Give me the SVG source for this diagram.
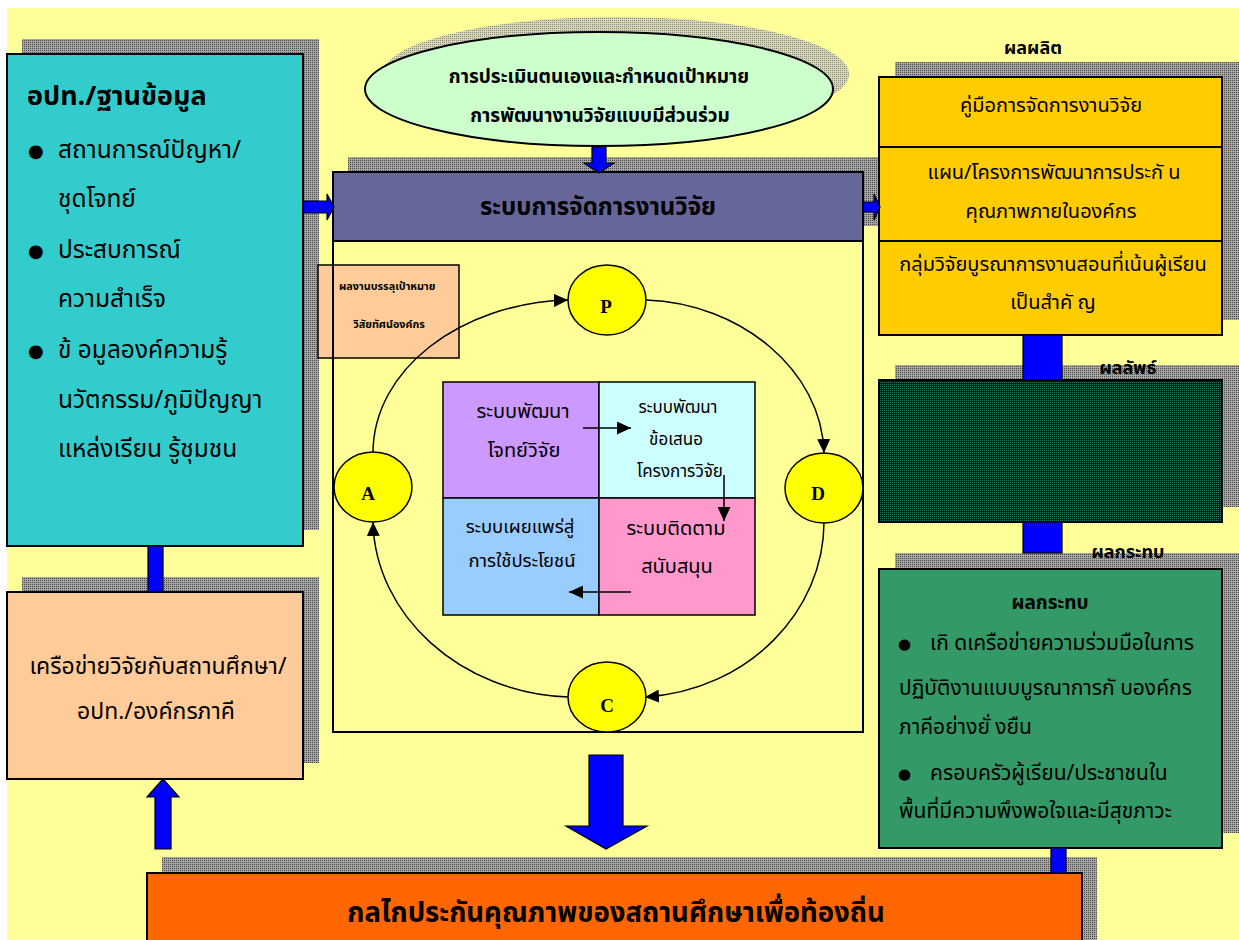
<svg xmlns="http://www.w3.org/2000/svg" width="1239" height="940" viewBox="0 0 1239 940">
<defs>
<pattern id="shd" width="2" height="2" patternUnits="userSpaceOnUse"><rect width="2" height="2" fill="#a6a6a6"/><rect width="1" height="1" fill="#4a4a4a"/></pattern>
<pattern id="shdl" width="2" height="2" patternUnits="userSpaceOnUse"><rect width="2" height="2" fill="#d8d8b0"/><rect width="1" height="1" fill="#8a8a80"/></pattern>
<pattern id="dk" width="2" height="2" patternUnits="userSpaceOnUse"><rect width="2" height="2" fill="#001a14"/><rect width="1" height="1" fill="#1f7a5c"/></pattern>
<marker id="ah" viewBox="0 0 14 13" refX="14" refY="6.5" markerWidth="14" markerHeight="13" markerUnits="userSpaceOnUse" orient="auto"><path d="M0,0 L14,6.5 L0,13 z" fill="#000"/></marker>
</defs>
<style>
.t{font-family:"Noto Sans Thai","DejaVu Sans","Liberation Serif",serif;fill:#000}
.b{font-weight:bold}
.c{text-anchor:middle}
.box{stroke:#000;stroke-width:2}
.blue{fill:#0000ff;stroke:#000;stroke-width:1.2}
.ln{fill:none;stroke:#000;stroke-width:1.5}
.cir{fill:#ffff00;stroke:#000;stroke-width:1.5}
.lt{font-family:"Liberation Serif",serif;font-weight:bold;font-size:19px;text-anchor:middle}
</style>
<rect x="7" y="8" width="1232" height="932" fill="#ffff99"/>

<g id="node-left-data">
<rect x="22" y="39" width="297" height="491" fill="url(#shd)"/>
<rect class="box" x="7" y="54" width="296" height="492" fill="#33cccc"/>
<text class="t b" x="27" y="105" font-size="27">อปท./ฐานข้อมูล</text>
<text class="t" x="28" y="157" font-size="18">●</text>
<text class="t" x="58" y="158" font-size="24.5">สถานการณ์ปัญหา/</text>
<text class="t" x="58" y="207" font-size="24.5">ชุดโจทย์</text>
<text class="t" x="28" y="257" font-size="18">●</text>
<text class="t" x="58" y="258" font-size="24.5">ประสบการณ์</text>
<text class="t" x="58" y="307" font-size="24.5">ความสำเร็จ</text>
<text class="t" x="28" y="357" font-size="18">●</text>
<text class="t" x="58" y="358" font-size="24.5">ข้ อมูลองค์ความรู้</text>
<text class="t" x="58" y="408" font-size="24.5">นวัตกรรม/ภูมิปัญญา</text>
<text class="t" x="58" y="457" font-size="24.5">แหล่งเรียน รู้ชุมชน</text>
</g>

<g id="node-network">
<rect x="22" y="577" width="297" height="186" fill="url(#shd)"/>
<rect class="box" x="7" y="592" width="296" height="187" fill="#ffcc99"/>
<text class="t c" x="158" y="674" font-size="23">เครือข่ายวิจัยกับสถานศึกษา/</text>
<text class="t c" x="156" y="719" font-size="23">อปท./องค์กรภาคี</text>
</g>

<g id="node-ellipse">
<ellipse cx="616" cy="74" rx="233" ry="57" fill="url(#shdl)"/>
<ellipse cx="599" cy="89" rx="234" ry="57" fill="#ccffcc" stroke="#000" stroke-width="2"/>
<text class="t b c" x="599" y="83" font-size="19">การประเมินตนเองและกำหนดเป้าหมาย</text>
<text class="t b c" x="600" y="122" font-size="19">การพัฒนางานวิจัยแบบมีส่วนร่วม</text>
</g>

<g id="node-goal">
<rect x="318" y="265" width="141" height="93" fill="#ffcc99" stroke="#000" stroke-width="1.5"/>
<text class="t b" x="339" y="290" font-size="10.8">ผลงานบรรลุเป้าหมาย</text>
<text class="t b c" x="389" y="328" font-size="10.8">วิสัยทัศน์องค์กร</text>
</g>

<g id="node-main">
<rect x="348" y="157" width="531" height="69" fill="url(#shd)"/>
<rect class="box" x="333" y="172" width="530" height="560" fill="none"/>
<rect class="box" x="333" y="172" width="530" height="69" fill="#666699"/>
<text class="t b c" x="598" y="215" font-size="24">ระบบการจัดการงานวิจัย</text>
</g>

<g id="node-grid">
<rect x="443" y="382" width="156" height="116" fill="#cc99ff" stroke="#000" stroke-width="1.5"/>
<rect x="599" y="382" width="156" height="116" fill="#ccffff" stroke="#000" stroke-width="1.5"/>
<rect x="443" y="498" width="156" height="117" fill="#99ccff" stroke="#000" stroke-width="1.5"/>
<rect x="599" y="498" width="156" height="117" fill="#ff99cc" stroke="#000" stroke-width="1.5"/>
<text class="t c" x="523" y="418" font-size="20">ระบบพัฒนา</text>
<text class="t c" x="524" y="457" font-size="20">โจทย์วิจัย</text>
<text class="t c" x="678" y="413" font-size="17">ระบบพัฒนา</text>
<text class="t c" x="676" y="445" font-size="17">ข้อเสนอ</text>
<text class="t c" x="680" y="477" font-size="17">โครงการวิจัย</text>
<text class="t c" x="520" y="533" font-size="18.5">ระบบเผยแพร่สู่</text>
<text class="t c" x="522" y="567" font-size="18.5">การใช้ประโยชน์</text>
<text class="t c" x="676" y="535" font-size="20">ระบบติดตาม</text>
<text class="t c" x="677" y="573" font-size="20">สนับสนุน</text>
</g>

<g id="node-output">
<text class="t b c" x="1033" y="54" font-size="18">ผลผลิต</text>
<rect x="895" y="62" width="344" height="258" fill="url(#shd)"/>
<rect class="box" x="879" y="77" width="343" height="258" fill="#ffcc00"/>
<line x1="879" y1="147" x2="1222" y2="147" stroke="#000" stroke-width="2"/>
<line x1="879" y1="241" x2="1222" y2="241" stroke="#000" stroke-width="2"/>
<text class="t c" x="1051" y="112" font-size="20">คู่มือการจัดการงานวิจัย</text>
<text class="t c" x="1054" y="179" font-size="20">แผน/โครงการพัฒนาการประกั น</text>
<text class="t c" x="1051" y="218" font-size="20">คุณภาพภายในองค์กร</text>
<text class="t c" x="1053" y="271" font-size="20">กลุ่มวิจัยบูรณาการงานสอนที่เน้นผู้เรียน</text>
<text class="t c" x="1053" y="309" font-size="20">เป็นสำคั ญ</text>
</g>

<g id="node-outcome">
<rect x="895" y="365" width="344" height="142" fill="url(#shd)"/>
<text class="t b c" x="1128" y="374" font-size="18">ผลลัพธ์</text>
<rect class="box" x="879" y="380" width="343" height="142" fill="url(#dk)"/>
</g>

<g id="node-impact">
<rect x="895" y="553" width="344" height="280" fill="url(#shd)"/>
<text class="t b c" x="1128" y="558" font-size="18">ผลกระทบ</text>
<rect class="box" x="879" y="569" width="343" height="279" fill="#339966"/>
<text class="t b c" x="1050" y="609" font-size="19">ผลกระทบ</text>
<text class="t" x="898" y="649" font-size="15">●</text>
<text class="t" x="930" y="650" font-size="21">เกิ ดเครือข่ายความร่วมมือในการ</text>
<text class="t" x="899" y="695" font-size="21">ปฏิบัติงานแบบบูรณาการกั บองค์กร</text>
<text class="t" x="899" y="734" font-size="21">ภาคีอย่างยั่ งยืน</text>
<text class="t" x="898" y="779" font-size="15">●</text>
<text class="t" x="930" y="780" font-size="21">ครอบครัวผู้เรียน/ประชาชนใน</text>
<text class="t" x="899" y="818" font-size="21">พื้นที่มีความพึงพอใจและมีสุขภาวะ</text>
</g>

<g id="node-mechanism">
<rect x="162" y="857" width="935" height="83" fill="url(#shd)"/>
<rect class="box" x="147" y="873" width="935" height="70" fill="#ff6600"/>
<text class="t b c" x="616" y="922" font-size="27.5">กลไกประกันคุณภาพของสถานศึกษาเพื่อท้องถิ่น</text>
</g>

<g id="connectors">
<rect class="blue" x="148" y="546" width="15" height="46"/>
<path class="blue" d="M303,201 H327 V194 L334,207 L327,220 V213 H303 Z"/>
<path class="blue" d="M863,202 H874 V194 L880,207 L874,220 V212 H863 Z"/>
<path class="blue" d="M592,147 H606 V163 H614 L599,173 L584,163 H592 Z"/>
<path class="blue" d="M155,849 V797 H147 L163,779 L179,797 H171 V849 Z"/>
<path class="blue" d="M589,755 H623 V826 H647 L606,849 L566,826 H589 Z"/>
<rect class="blue" x="1023" y="335" width="39" height="45"/>
<rect class="blue" x="1023" y="522" width="39" height="31"/>
<rect class="blue" x="1051" y="848" width="15" height="25"/>
<path class="ln" marker-end="url(#ah)" d="M373,453 C373,370 460,303 568,300"/>
<path class="ln" marker-end="url(#ah)" d="M646,300 C740,303 822,370 824,453"/>
<path class="ln" marker-end="url(#ah)" d="M824,522 C824,610 750,690 645,697"/>
<path class="ln" marker-end="url(#ah)" d="M568,697 C460,693 375,615 373,522"/>
<path class="ln" marker-end="url(#ah)" d="M583,428 H631"/>
<path class="ln" marker-end="url(#ah)" d="M724,475 V521"/>
<path class="ln" marker-end="url(#ah)" d="M631,592 H569"/>
</g>

<g id="node-P"><ellipse class="cir" cx="607" cy="300" rx="39" ry="35"/><text class="lt" x="606" y="313">P</text></g>
<g id="node-A"><ellipse class="cir" cx="373" cy="487" rx="39" ry="35"/><text class="lt" x="368" y="500">A</text></g>
<g id="node-D"><ellipse class="cir" cx="824" cy="488" rx="39" ry="35"/><text class="lt" x="818" y="500">D</text></g>
<g id="node-C"><ellipse class="cir" cx="607" cy="697" rx="39" ry="35"/><text class="lt" x="607" y="712">C</text></g>
</svg>
